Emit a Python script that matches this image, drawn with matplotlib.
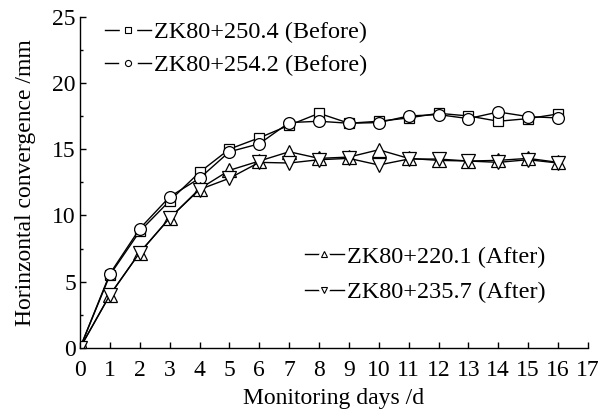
import matplotlib.pyplot as plt
from matplotlib.lines import Line2D
from matplotlib.legend_handler import HandlerTuple

plt.rcParams['font.family'] = ['Liberation Serif', 'DejaVu Serif']

days = list(range(0, 17))

zk250_4 = [0, 5.5, 8.8, 11.1, 13.25, 15.0, 15.85, 16.8, 17.7, 16.95, 17.1, 17.35, 17.7, 17.5, 17.1, 17.3, 17.65]
zk254_2 = [0, 5.6, 9.0, 11.4, 12.8, 14.8, 15.4, 17.0, 17.1, 16.95, 17.0, 17.5, 17.6, 17.3, 17.8, 17.45, 17.35]
zk220_1 = [0, 4.0, 7.2, 9.8, 12.0, 13.4, 14.1, 14.8, 14.3, 14.4, 14.95, 14.3, 14.15, 14.1, 14.15, 14.3, 14.0]
zk235_7 = [0, 4.0, 7.2, 9.8, 11.95, 12.8, 14.0, 13.95, 14.2, 14.3, 13.8, 14.25, 14.25, 14.1, 14.0, 14.2, 13.95]

names = ['ZK80+250.4 (Before)', 'ZK80+254.2 (Before)', 'ZK80+220.1 (After)', 'ZK80+235.7 (After)']
markers = ['s', 'o', '^', 'v']
msizes = [7.5, 8.5, 9.5, 9.5]
leg_ms = [4.0, 4.4, 5.0, 5.0]

fs = 17

fig = plt.figure(figsize=(6.03, 4.18), dpi=100)
ax = fig.add_axes([0.1327, 0.1675, 0.975 - 0.1327, 0.9605 - 0.1675])

handles = []
for vals, m, s, ls_, nm in zip([zk250_4, zk254_2, zk220_1, zk235_7], markers, msizes, leg_ms, names):
    ax.plot(days, vals, '-', color='black', lw=1.0, marker=m, ms=s,
            mfc='white', mec='black', mew=0.9)
    # legend handle: line broken around a small open marker
    h = (Line2D([], [], color='black', lw=1.0),
         Line2D([], [], ls='none', marker=m, ms=ls_ + 8, mfc='white', mec='white'),
         Line2D([], [], ls='none', marker=m, ms=ls_, mfc='white', mec='black', mew=0.8))
    handles.append(h)

ax.set_xlim(0, 17)
ax.set_ylim(0, 25)
ax.set_xticks(range(0, 18))
ax.set_yticks([0, 5, 10, 15, 20, 25])
ax.set_yticks([2.5, 7.5, 12.5, 17.5, 22.5], minor=True)
ax.tick_params(direction='in', length=4, width=1, labelsize=fs)
ax.tick_params(axis='x', pad=8.5)
ax.tick_params(axis='y', pad=3)
ax.tick_params(which='minor', direction='in', length=2.5, width=1)
ax.spines['top'].set_visible(False)
ax.spines['right'].set_visible(False)
for s in ['left', 'bottom']:
    ax.spines[s].set_linewidth(1.0)

ax.set_xlabel('Monitoring days /d', fontsize=fs, labelpad=5)
ax.set_ylabel('Horinzontal convergence /mm', fontsize=fs, labelpad=12)

hmap = {tuple: HandlerTuple(ndivide=1, pad=0)}
leg1 = ax.legend(handles=handles[:2], labels=names[:2], handler_map=hmap,
                 loc='upper left', bbox_to_anchor=(0.049, 0.985),
                 frameon=False, fontsize=17.5, handlelength=1.9,
                 handletextpad=0.12, labelspacing=0.45, borderaxespad=0, borderpad=0)
ax.add_artist(leg1)
ax.legend(handles=handles[2:], labels=names[2:], handler_map=hmap,
          loc='upper left', bbox_to_anchor=(0.443, 0.308),
          frameon=False, fontsize=17.5, handlelength=1.6,
          handletextpad=0.12, labelspacing=0.55, borderaxespad=0, borderpad=0)

fig.savefig('out.png', dpi=100)
